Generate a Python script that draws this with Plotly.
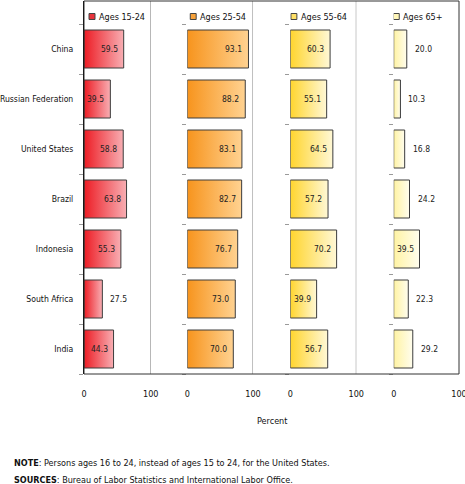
import plotly.graph_objects as go

countries = ["China", "Russian Federation", "United States", "Brazil",
             "Indonesia", "South Africa", "India"]
age_groups = ["Ages 15-24", "Ages 25-54", "Ages 55-64", "Ages 65+"]
ages_15_24 = [59.5, 39.5, 58.8, 63.8, 55.3, 27.5, 44.3]
ages_25_54 = [93.1, 88.2, 83.1, 82.7, 76.7, 73.0, 70.0]
ages_55_64 = [60.3, 55.1, 64.5, 57.2, 70.2, 39.9, 56.7]
ages_65_plus = [20.0, 10.3, 16.8, 24.2, 39.5, 22.3, 29.2]
x_ticks = [0, 100]

series = [ages_15_24, ages_25_54, ages_55_64, ages_65_plus]

# look of each panel
grad_left = ["#ED1C24", "#F7941D", "#FFD52E", "#FFF3A3"]
grad_right = ["#F8AEB3", "#FFD291", "#FFF8D6", "#FFFDEE"]
legend_fill = ["#E8333B", "#F8A23A", "#FFE066", "#FFF6B8"]
legend_x = [7.5, 4.5, 1.0, -0.5]
# panel domains (fraction of plot width), zero point at left edge
domains = [[0.0, 0.1779], [0.2755, 0.4507], [0.5501, 0.7261], [0.8259, 1.0]]

FONT = "DejaVu Sans Condensed, Liberation Sans, sans-serif"
y_range = [6.5, -0.96]
half = 0.38

fig = go.Figure()
annotations = []
shapes = []

for k, vals in enumerate(series):
    xa = "x" if k == 0 else f"x{k + 1}"
    ya = "y" if k == 0 else f"y{k + 1}"
    for i, v in enumerate(vals):
        fig.add_trace(go.Scatter(
            x=[0, v, v, 0, 0],
            y=[i - half, i - half, i + half, i + half, i - half],
            mode="lines", fill="toself",
            fillgradient=dict(type="horizontal",
                              colorscale=[[0, grad_left[k]], [1, grad_right[k]]]),
            line=dict(color="#3c3c3c", width=1),
            xaxis=xa, yaxis=ya, showlegend=False, hoverinfo="skip"))
        inside = v >= 35
        annotations.append(dict(
            x=v, y=i, xref=xa, yref=ya, text=f"{v:.1f}", showarrow=False,
            xanchor="right" if inside else "left", xshift=-4 if inside else 6,
            yanchor="middle",
            font=dict(family=FONT, size=8.5, color="#222")))

    # legend square and label
    shapes.append(dict(type="rect", xref=xa, yref=ya,
                       x0=legend_x[k], x1=legend_x[k] + 9, y0=-0.71, y1=-0.59,
                       fillcolor=legend_fill[k], line=dict(color="#444", width=1)))
    annotations.append(dict(x=legend_x[k] + 11.5, y=-0.65, xref=xa, yref=ya,
                            text=age_groups[k], showarrow=False, xanchor="left",
                            yanchor="middle",
                            font=dict(family=FONT, size=9, color="#111")))
    # divider at 100
    if k < 3:
        shapes.append(dict(type="line", xref=xa, yref="paper", x0=100, x1=100,
                           y0=0, y1=1, line=dict(color="#808080", width=1)))

    fig.update_layout({
        ("xaxis" if k == 0 else f"xaxis{k + 1}"): dict(
            domain=domains[k], range=[0, 100], anchor=ya, automargin=False,
            tickvals=x_ticks, ticktext=[str(t) for t in x_ticks],
            ticks="outside", ticklen=11, tickcolor="rgba(0,0,0,0)",
            ticklabeloverflow="allow",
            showgrid=False, zeroline=False, showline=False,
            tickfont=dict(family=FONT, size=9, color="#111")),
        ("yaxis" if k == 0 else f"yaxis{k + 1}"): dict(
            domain=[0, 1], range=y_range, anchor=xa, automargin=False,
            tickvals=list(range(len(countries))), ticktext=countries,
            showticklabels=(k == 0), ticks="", ticklabelstandoff=8,
            showgrid=False, zeroline=False,
            showline=(k == 0), linecolor="#000", linewidth=1,
            minor=dict(tickvals=[i - 0.5 for i in range(len(countries) + 1)],
                       ticks="outside", ticklen=4, tickcolor="#9a9a9a"),
            tickfont=dict(family=FONT, size=8.6, color="#111")),
    })

# outer frame
shapes.append(dict(type="rect", xref="paper", yref="paper", x0=0, x1=1, y0=0, y1=1,
                   line=dict(color="#333", width=1)))

annotations += [
    dict(x=0.5, y=-0.126, xref="paper", yref="paper", text="Percent",
         yanchor="middle",
         showarrow=False, font=dict(family=FONT, size=9, color="#111")),
    dict(x=-0.192, y=-0.238, xref="paper", yref="paper", xanchor="left",
         yanchor="middle",
         text="<b>NOTE</b>: Persons ages 16 to 24, instead of ages 15 to 24, for the United States.",
         showarrow=False, font=dict(family=FONT, size=9, color="#111")),
    dict(x=-0.192, y=-0.283, xref="paper", yref="paper", xanchor="left",
         yanchor="middle",
         text="<b>SOURCES</b>: Bureau of Labor Statistics and International Labor Office.",
         showarrow=False, font=dict(family=FONT, size=9, color="#111")),
]

fig.update_layout(
    width=465, height=484,
    margin=dict(l=84, r=6, t=1, b=110, autoexpand=False),
    paper_bgcolor="white", plot_bgcolor="white",
    shapes=shapes, annotations=annotations,
    showlegend=False,
)

# drop the page's default body margin so the figure sits at the window corner
fig.write_html("out.html", config={"displayModeBar": False},
               post_script="document.body.style.margin='0';")
